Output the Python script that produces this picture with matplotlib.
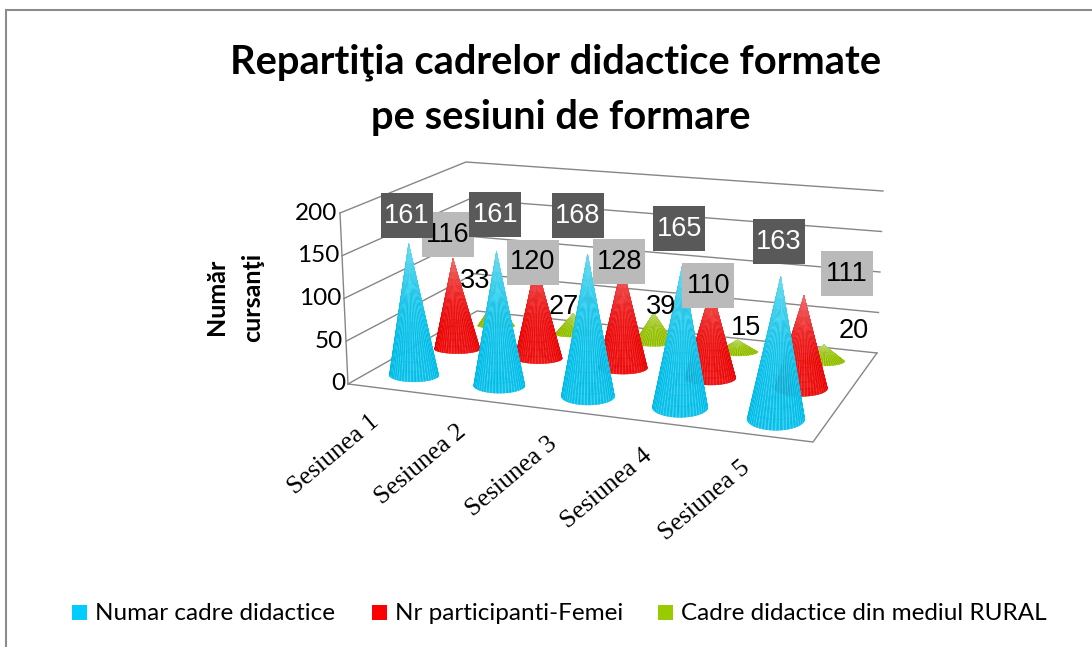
import numpy as np
import matplotlib
matplotlib.use("Agg")
import matplotlib.pyplot as plt
from matplotlib.collections import PolyCollection
from matplotlib.patches import Rectangle

categories = ["Sesiunea 1", "Sesiunea 2", "Sesiunea 3", "Sesiunea 4", "Sesiunea 5"]
series_names = ["Numar cadre didactice", "Nr participanti-Femei", "Cadre didactice din mediul RURAL"]
numar_cadre = [161, 161, 168, 165, 163]
femei = [116, 120, 128, 110, 111]
rural = [33, 27, 39, 15, 20]
series_values = [numar_cadre, femei, rural]
series_colors = ["#00B8E4", "#E80000", "#8FBA00"]
legend_colors = ["#00CCFF", "#FF0000", "#99CC00"]
y_ticks = [0, 50, 100, 150, 200]
title_lines = ["Repartiţia cadrelor didactice formate", "pe sesiuni de formare"]
y_title_lines = ["Număr", "cursanţi"]

# label offsets from the cone tip, in pixels (placement only)
label_offsets = [
    [(-2, -28), (-1, -37), (-10, -39), (-3, -37), (-2, -35)],
    [(-5, -24), (-3, -1), (-3, -3), (-3, -2), (43, -22)],
    [(-20, -20), (-9, -7), (7, -6), (9, -12), (30, -14)],
]

# projection: floor corners and height-200 vectors in image pixels
FL, FR, BR, BL = (348, 384), (813, 442), (877, 353), (477, 311)
V200 = {"FL": (-8, -171), "FR": (8, -186), "BR": (6, -162), "BL": (-11, -149)}
CONE_HEIGHT = 0.965


def homography():
    src = [(0, 0), (1, 0), (1, 1), (0, 1)]
    dst = [FL, FR, BR, BL]
    A, b = [], []
    for (x, y), (X, Y) in zip(src, dst):
        A.append([x, y, 1, 0, 0, 0, -x * X, -y * X]); b.append(X)
        A.append([0, 0, 0, x, y, 1, -x * Y, -y * Y]); b.append(Y)
    return np.append(np.linalg.solve(np.array(A, float), np.array(b, float)), 1).reshape(3, 3)


H = homography()


def project(u, v, h=0.0):
    p = H @ np.array([u, v, 1.0])
    x, y = p[0] / p[2], p[1] / p[2]
    w = np.array([(1 - u) * (1 - v), u * (1 - v), u * v, (1 - u) * v])
    vec = w @ np.array([V200["FL"], V200["FR"], V200["BR"], V200["BL"]], float)
    return x + vec[0] * h / 200, y + vec[1] * h / 200


def shade(rgb, f, stripe):
    c = np.array(rgb)
    white = 0.42 * f ** 2.2
    c = c * (1 - white) + white
    return tuple(np.clip(c + stripe, 0, 1))


fig = plt.figure(figsize=(10.92, 6.47), dpi=100)
ax = fig.add_axes([0, 0, 1, 1])
ax.set_xlim(0, 1092)
ax.set_ylim(647, 0)
ax.axis("off")

GRID = "#868686"
# chart frame
ax.plot([6, 6, 1092], [647, 10, 10], color="#8c8c8c", lw=1.5, zorder=1, solid_joinstyle="miter")

# walls and floor
for t in y_ticks:
    pts = [project(0, 0, t), project(0, 1, t), project(1, 1, t)]
    ax.plot(*zip(*pts), color=GRID, lw=1.0, zorder=2)
    x, y = pts[0]
    ax.text(x - 3, y, str(t), ha="right", va="center", fontsize=17.5, family="Lato", color="black", zorder=9)
ax.plot(*zip(project(0, 0, 0), project(0, 0, 200)), color=GRID, lw=1.0, zorder=2)
ax.plot(*zip(project(0, 0), project(1, 0), project(1, 1)), color=GRID, lw=1.0, zorder=2)

# cones
n_cat = len(categories)
cone_scale = [0.295, 0.285, 0.24]
tips = {}
for j in [2, 1, 0]:
    base_rgb = matplotlib.colors.to_rgb(series_colors[j])
    v = (j + 0.5) / 3
    for i, val in enumerate(series_values[j]):
        u = (i + 0.5) / n_cat
        cx, cy = project(u, v)
        tx, ty = project(u, v, val * CONE_HEIGHT)
        tips[(j, i)] = (tx, ty)
        spacing = project(u + 0.1, v)[0] - project(u - 0.1, v)[0]
        rx = cone_scale[j] * spacing
        ry = rx * (0.12 + 0.28 * np.clip((cy - 320) / 100, 0, 1))
        nseg, nband = 72, 14
        th = np.linspace(0, np.pi, nseg + 1)
        ex, ey = cx + rx * np.cos(th), cy + ry * np.sin(th)
        fr = np.linspace(0, 1, nband + 1)
        polys, cols = [], []
        for a in range(nseg):
            stripe = 0.14 if a % 3 == 0 else (-0.03 if a % 3 == 1 else 0)
            for b in range(nband):
                f0, f1 = fr[b], fr[b + 1]
                polys.append([
                    (ex[a] + (tx - ex[a]) * f0, ey[a] + (ty - ey[a]) * f0),
                    (ex[a + 1] + (tx - ex[a + 1]) * f0, ey[a + 1] + (ty - ey[a + 1]) * f0),
                    (ex[a + 1] + (tx - ex[a + 1]) * f1, ey[a + 1] + (ty - ey[a + 1]) * f1),
                    (ex[a] + (tx - ex[a]) * f1, ey[a] + (ty - ey[a]) * f1),
                ])
                cols.append(shade(base_rgb, (f0 + f1) / 2, stripe))
        ax.add_collection(PolyCollection(polys, facecolors=cols, edgecolors=cols, linewidths=0.35,
                                         alpha=0.88, zorder=3 + (2 - j), antialiased=True))

# data labels: plain, then light boxes, then dark boxes
box_style = {2: (None, "black"), 1: ("#BABABA", "black"), 0: ("#595959", "white")}
for z, j in enumerate([2, 1, 0]):
    face, tcol = box_style[j]
    for i, val in enumerate(series_values[j]):
        tx, ty = tips[(j, i)]
        dx, dy = label_offsets[j][i]
        lx, ly = tx + dx, ty + dy
        if face:
            ax.add_patch(Rectangle((lx - 26, ly - 22.5), 52, 45, facecolor=face, edgecolor="none", zorder=10 + z))
        ax.text(lx, ly, str(val), ha="center", va="center", fontsize=19.5, color=tcol,
                family="Liberation Sans", zorder=10 + z + 0.5)

# category labels
for i, name in enumerate(categories):
    x, y = project((i + 0.5) / n_cat, 0)
    ax.text(x - 57, y + 65, name, rotation=40, rotation_mode="anchor", ha="center", va="center",
            fontsize=18.5, family="Liberation Serif", color="black")

# titles
for line, xc, y in zip(title_lines, [556, 561], [62, 117]):
    ax.text(xc, y, line, ha="center", va="center", fontsize=28.7, fontweight="bold", family="Lato", color="black")
for line, x in zip(y_title_lines, [217, 253]):
    ax.text(x, 297, line, ha="center", va="center", rotation=90, fontsize=18, fontweight="bold",
            family="Lato", color="black")

# legend
leg_x = [72, 372, 658]
for name, col, x in zip(series_names, legend_colors, leg_x):
    ax.add_patch(Rectangle((x, 605), 15, 15, facecolor=col, edgecolor="none", zorder=5))
    ax.text(x + 23, 613, name, ha="left", va="center", fontsize=17.5, family="Lato", color="black")

fig.savefig("out.png", dpi=100)
